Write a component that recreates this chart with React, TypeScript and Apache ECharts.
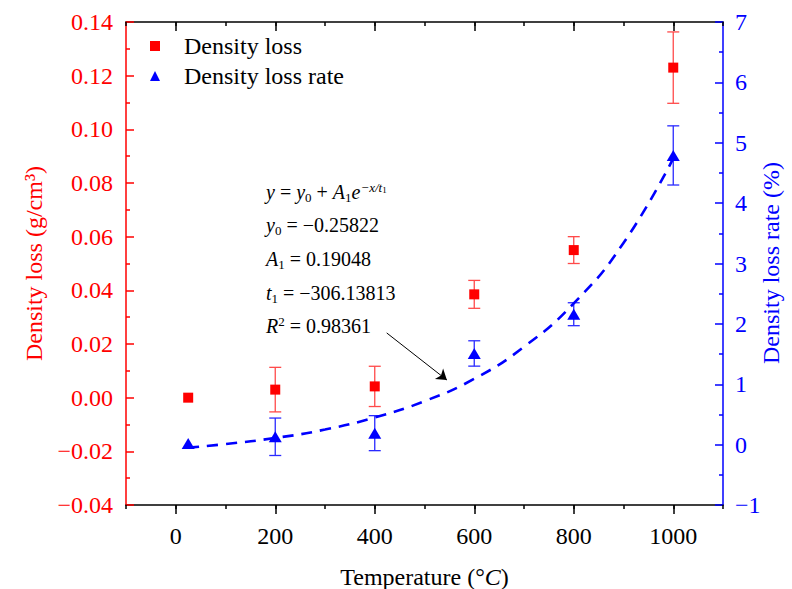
import React, { useEffect, useRef } from "react";
import * as echarts from "echarts";

// ---------- data ----------
const temps = [25, 200, 400, 600, 800, 1000];
const densityLoss = [0.0, 0.003, 0.0042, 0.0385, 0.055, 0.123];
const densityLossErr = [0, 0.0083, 0.0075, 0.0052, 0.005, 0.0133];
const lossRate = [0.02, 0.13, 0.19, 1.51, 2.16, 4.79];
const lossRateErr = [0, 0.31, 0.29, 0.21, 0.19, 0.49];

// dashed fitted curve (right axis)
const fitX = [25, 100, 200, 300, 400, 500, 600, 700, 800, 900, 1000];
const fitY = [-0.05, 0.01, 0.11, 0.25, 0.45, 0.72, 1.09, 1.62, 2.34, 3.34, 4.74];

const xTicks = [0, 200, 400, 600, 800, 1000];

// annotation arrow (x, right-axis y)
const arrowFrom = [424, 1.85];
const arrowTo = [545, 1.07];

const eqLines = [
  "{i|y}{n| = }{i|y}{sub|0}{n| + }{i|A}{sub|1}{i|e}{isup|−x/t}{isupsub|1}",
  "{i|y}{sub|0}{n| = −0.25822}",
  "{i|A}{sub|1}{n| = 0.19048}",
  "{i|t}{sub|1}{n| = −306.13813}",
  "{i|R}{sup|2}{n| = 0.98361}",
];

const RED = "#ff0000";
const BLUE = "#0000ff";
const SERIF = '"Liberation Serif", "Times New Roman", "DejaVu Serif", serif';

const minus = (s: string) => s.replace("-", "−");

function errorBarSeries(name: string, vals: number[], errs: number[], color: string, yAxisIndex: number) {
  const data = temps
    .map((t, i) => [t, vals[i] - errs[i], vals[i] + errs[i]])
    .filter((_, i) => errs[i] > 0);
  return {
    name,
    type: "custom",
    xAxisIndex: 0,
    yAxisIndex,
    z: 2,
    silent: true,
    encode: { x: 0, y: [1, 2] },
    data,
    renderItem: (params: any, api: any) => {
      const x = api.value(0);
      const lo = api.coord([x, api.value(1)]);
      const hi = api.coord([x, api.value(2)]);
      const hw = 6;
      const style = { stroke: color, lineWidth: 1.3, fill: "none" };
      return {
        type: "group",
        children: [
          { type: "line", shape: { x1: lo[0], y1: lo[1], x2: hi[0], y2: hi[1] }, style },
          { type: "line", shape: { x1: lo[0] - hw, y1: lo[1], x2: lo[0] + hw, y2: lo[1] }, style },
          { type: "line", shape: { x1: hi[0] - hw, y1: hi[1], x2: hi[0] + hw, y2: hi[1] }, style },
        ],
      };
    },
  };
}

export default function App() {
  const ref = useRef<HTMLDivElement>(null);

  useEffect(() => {
    if (!ref.current) return;
    const chart = echarts.init(ref.current, null, { renderer: "svg" });

    const blackLine = { color: "#000", width: 1.5 };
    const hiddenLabel = { show: false };

    const eqRich = {
      n: { fontSize: 20, fontFamily: SERIF, color: "#000" },
      i: { fontSize: 20, fontFamily: SERIF, fontStyle: "italic", color: "#000" },
      sub: { fontSize: 13, fontFamily: SERIF, color: "#000", padding: [10, 0, 0, 0] },
      sup: { fontSize: 13, fontFamily: SERIF, color: "#000", padding: [0, 0, 10, 0] },
      isup: { fontSize: 13, fontFamily: SERIF, fontStyle: "italic", color: "#000", padding: [0, 0, 10, 0] },
      isupsub: { fontSize: 9, fontFamily: SERIF, color: "#000", padding: [0, 0, 4, 0] },
    };
    const eqY = [192, 225, 259, 293, 326];

    const eqGraphics = eqLines.map((txt, k) => ({
      type: "text",
      x: 266,
      y: eqY[k],
      silent: true,
      style: {
        text: txt,
        rich: eqRich,
        verticalAlign: "middle",
        align: "left",
        fill: "#000",
        fontSize: 20,
        fontFamily: SERIF,
      },
    }));

    const rightTitle = {
      type: "text",
      x: 771,
      y: 263,
      rotation: Math.PI / 2,
      silent: true,
      style: {
        text: "Density loss rate (%)",
        fill: BLUE,
        fontSize: 24,
        fontFamily: SERIF,
        align: "center",
        verticalAlign: "middle",
      },
    };

    const option: any = {
      animation: false,
      backgroundColor: "#fff",
      grid: { left: 126, right: 69, top: 22, bottom: 84, containLabel: false, outerBoundsMode: "none" },
      legend: {
        orient: "vertical",
        left: 150,
        top: 34,
        padding: 0,
        itemWidth: 10,
        itemHeight: 10,
        itemGap: 6,
        selectedMode: false,
        textStyle: { fontSize: 24, fontFamily: SERIF, color: "#000", lineHeight: 22, padding: [0, 0, 0, 19] },
        data: [
          { name: "Density loss", icon: "rect" },
          { name: "Density loss rate", icon: "triangle" },
        ],
      },
      xAxis: [
        {
          type: "value",
          position: "bottom",
          min: -100,
          max: 1100,
          axisLine: { show: true, onZero: false, lineStyle: blackLine },
          axisTick: { show: true, inside: false, length: 9, customValues: xTicks, lineStyle: blackLine },
          axisLabel: {
            customValues: xTicks,
            margin: 19,
            color: "#000",
            fontSize: 24,
            fontFamily: SERIF,
            formatter: (v: number) => String(v),
          },
          splitLine: { show: false },
          name: "{a|Temperature (°}{c|C}{a|)}",
          nameLocation: "middle",
          nameGap: 60,
          nameTextStyle: {
            rich: {
              a: { fontSize: 24, fontFamily: SERIF, color: "#000" },
              c: { fontSize: 24, fontFamily: SERIF, fontStyle: "italic", color: "#000" },
            },
          },
        },
        {
          type: "value",
          position: "bottom",
          min: -100,
          max: 1100,
          interval: 100,
          axisLine: { show: false, onZero: false },
          axisTick: { show: true, inside: false, length: 4, lineStyle: blackLine },
          axisLabel: hiddenLabel,
          splitLine: { show: false },
        },
        {
          type: "value",
          position: "top",
          min: -100,
          max: 1100,
          axisLine: { show: true, onZero: false, lineStyle: blackLine },
          axisTick: { show: true, inside: true, length: 9, customValues: xTicks, lineStyle: blackLine },
          axisLabel: hiddenLabel,
          splitLine: { show: false },
        },
        {
          type: "value",
          position: "top",
          min: -100,
          max: 1100,
          interval: 100,
          axisLine: { show: false, onZero: false },
          axisTick: { show: true, inside: true, length: 4, lineStyle: blackLine },
          axisLabel: hiddenLabel,
          splitLine: { show: false },
        },
      ],
      yAxis: [
        {
          type: "value",
          position: "left",
          min: -0.04,
          max: 0.14,
          interval: 0.02,
          axisLine: { show: true, onZero: false, lineStyle: { color: RED, width: 1.5 } },
          axisTick: { show: true, inside: true, length: 8, lineStyle: { color: RED, width: 1.5 } },
          minorTick: { show: true, splitNumber: 2, length: 4, lineStyle: { color: RED, width: 1.5 } },
          axisLabel: {
            color: RED,
            fontSize: 24,
            fontFamily: SERIF,
            margin: 13,
            formatter: (v: number) => minus(v.toFixed(2)),
          },
          splitLine: { show: false },
          name: "Density loss (g/cm³)",
          nameLocation: "middle",
          nameRotate: 90,
          nameGap: 80,
          nameTextStyle: { color: RED, fontSize: 24, fontFamily: SERIF },
        },
        {
          type: "value",
          position: "right",
          min: -1,
          max: 7,
          interval: 1,
          axisLine: { show: true, onZero: false, lineStyle: { color: BLUE, width: 1.5 } },
          axisTick: { show: true, inside: true, length: 8, lineStyle: { color: BLUE, width: 1.5 } },
          minorTick: { show: true, splitNumber: 2, length: 4, lineStyle: { color: BLUE, width: 1.5 } },
          axisLabel: {
            color: BLUE,
            fontSize: 24,
            fontFamily: SERIF,
            margin: 12,
            formatter: (v: number) => minus(String(v)),
          },
          splitLine: { show: false },
        },
      ],
      series: [
        errorBarSeries("errLoss", densityLoss, densityLossErr, "#ff4a4a", 0),
        {
          name: "Density loss",
          type: "scatter",
          xAxisIndex: 0,
          yAxisIndex: 0,
          symbol: "rect",
          symbolSize: 10,
          z: 5,
          itemStyle: { color: RED, opacity: 1 },
          data: temps.map((t, i) => [t, densityLoss[i]]),
        },
        errorBarSeries("errRate", lossRate, lossRateErr, "#2a2aff", 1),
        {
          name: "fit",
          type: "line",
          xAxisIndex: 0,
          yAxisIndex: 1,
          smooth: true,
          showSymbol: false,
          symbol: "none",
          z: 3,
          silent: true,
          lineStyle: { color: BLUE, width: 2.6, type: [11, 8] },
          data: fitX.map((x, i) => [x, fitY[i]]),
          markLine: {
            silent: true,
            symbol: ["none", "arrow"],
            symbolSize: 10,
            label: { show: false },
            lineStyle: { color: "#000", width: 1, type: "solid" },
            emphasis: { disabled: true },
            data: [[{ coord: arrowFrom }, { coord: arrowTo }]],
          },
        },
        {
          name: "Density loss rate",
          type: "scatter",
          xAxisIndex: 0,
          yAxisIndex: 1,
          symbol: "triangle",
          symbolSize: [13, 11],
          z: 5,
          itemStyle: { color: BLUE, opacity: 1 },
          data: temps.map((t, i) => [t, lossRate[i]]),
        },
      ],
      graphic: [...eqGraphics, rightTitle],
    };

    chart.setOption(option);
    return () => chart.dispose();
  }, []);

  return (
    <div
      ref={ref}
      style={{ position: "fixed", left: 0, top: 0, width: 792, height: 589, background: "#fff" }}
    />
  );
}
